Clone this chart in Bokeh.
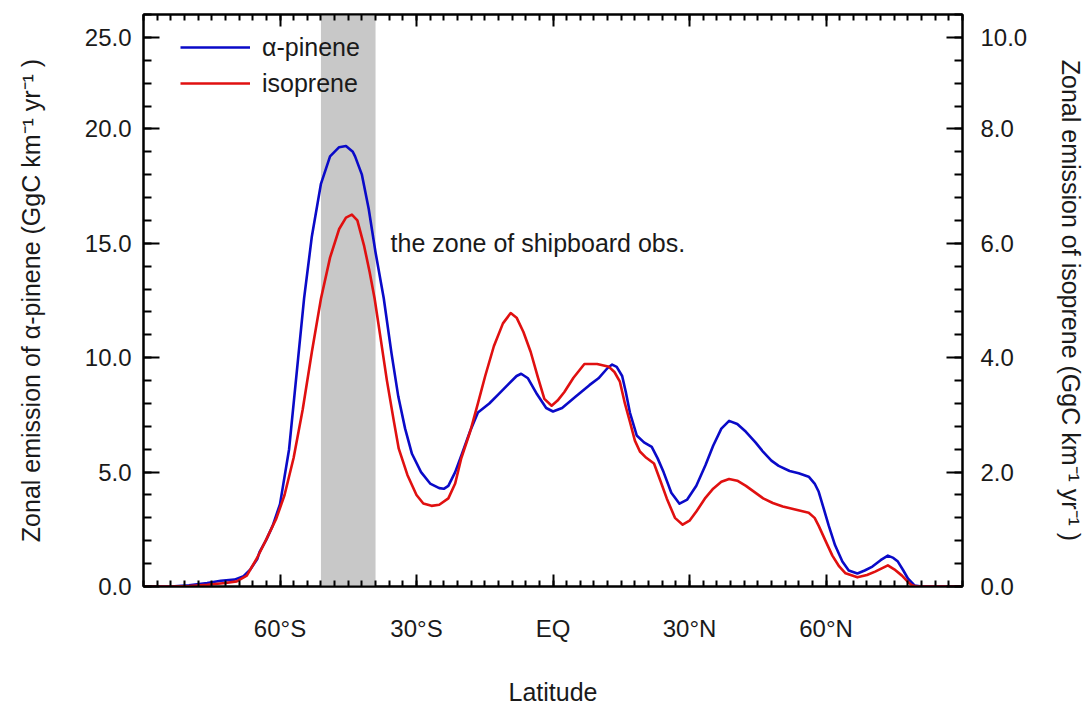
from bokeh.plotting import figure
from bokeh.models import (LinearAxis, Range1d, FixedTicker, BoxAnnotation, Label,
                          Legend, LegendItem)
from bokeh.embed import file_html
from bokeh.resources import INLINE

# ---------------- data ----------------
lat_apinene = [-90, -84, -80, -76, -73, -70, -68, -66.5, -65, -64.5, -63, -61.6, -60, -58, -56,
               -54.7, -53, -51, -49, -47, -45.5, -44, -43.5, -42, -40.5, -39, -37.2, -35.5, -34,
               -32.5, -31, -29, -27, -25, -24, -23, -21.5, -20, -18.2, -16.5, -14, -12, -10, -8,
               -7, -5.5, -3.5, -1.5, 0, 2, 5, 8, 10, 12, 13, 14, 15.2, 16, 16.9, 18.4, 20, 21.7,
               23, 24.3, 26, 27.8, 29.5, 31.5, 33.5, 35.2, 37, 38.7, 40.5, 42.4, 44.5, 46.2, 48,
               49.6, 52, 54, 56.2, 57.5, 58.4, 59.5, 60.6, 62, 63.6, 65, 66.9, 68.5, 70.2, 72,
               73.6, 74.8, 75.8, 77, 78, 79.5, 81, 90]
val_apinene = [0, 0, 0.05, 0.15, 0.25, 0.3, 0.45, 0.75, 1.2, 1.5, 2.05, 2.66, 3.6, 6.0, 10.0,
               12.6, 15.3, 17.6, 18.8, 19.2, 19.25, 19.0, 18.8, 18.0, 16.5, 14.6, 12.6, 10.2, 8.3,
               6.9, 5.8, 5.0, 4.5, 4.3, 4.27, 4.4, 5.0, 5.8, 6.8, 7.6, 8.0, 8.4, 8.8, 9.2,
               9.3, 9.1, 8.4, 7.8, 7.65, 7.8, 8.3, 8.8, 9.1, 9.55, 9.7, 9.6, 9.2, 8.5, 7.6, 6.6, 6.3, 6.1,
               5.6, 5.0, 4.1, 3.62, 3.8, 4.4, 5.3, 6.15, 6.9, 7.24, 7.1, 6.76, 6.3, 5.88, 5.5,
               5.27, 5.05, 4.95, 4.8, 4.5, 4.14, 3.4, 2.66, 1.8, 1.09, 0.7, 0.57, 0.7, 0.87, 1.15,
               1.35, 1.25, 1.09, 0.7, 0.35, 0.04, 0, 0]

lat_isoprene = [-90, -84, -80, -76, -72, -69.5, -67.3, -65.1, -62.9, -60.8, -59, -57, -55, -53,
                -51, -49, -47, -45.5, -44.2, -43, -41.5, -40.3, -39.2, -38, -36.5, -35, -33.9,
                -32, -30, -28.5, -26.7, -25, -23, -21.5, -20.2, -18.2, -16.5, -14.9, -13, -11,
                -9.3, -8, -6.5, -4.9, -3.3, -1.9, -0.3, 1, 2.5, 4.5, 6.9, 9.7, 12.3, 13.5, 14.7,
                15.8, 16.9, 18, 19.1, 20.5, 22.2, 23.6, 25, 26.8, 28.5, 30, 31.5, 33.5, 35.2, 37,
                38.7, 40.5, 42.4, 44.3, 46.2, 48.3, 50.5, 53, 56.2, 57.5, 58.4, 60, 61.4, 62.9,
                64.3, 66.9, 69, 70.8, 73.6, 75, 76.7, 78, 78.9, 80, 90]
val_isoprene = [0, 0, 0.01, 0.03, 0.06, 0.09, 0.19, 0.49, 0.84, 1.19, 1.6, 2.25, 3.1, 4.1,
                5.03, 5.75, 6.25, 6.45, 6.5, 6.4, 5.95, 5.5, 5.03, 4.4, 3.6, 2.9, 2.41,
                1.95, 1.6, 1.45, 1.41, 1.43, 1.54, 1.8, 2.23, 2.71, 3.2, 3.68, 4.2, 4.6,
                4.78, 4.7, 4.45, 4.10, 3.65, 3.28, 3.16, 3.25, 3.4, 3.65, 3.89, 3.89, 3.84, 3.75, 3.58,
                3.2, 2.88, 2.55, 2.36, 2.25, 2.15, 1.85, 1.54, 1.2, 1.08, 1.15, 1.31, 1.55, 1.71, 1.83,
                1.88, 1.85, 1.76, 1.65, 1.54, 1.46, 1.4, 1.35, 1.29, 1.2, 1.06, 0.78, 0.54, 0.35,
                0.23, 0.16, 0.2, 0.26, 0.37, 0.3, 0.19, 0.08, 0.02, 0, 0]

zone_south = -51
zone_north = -39
zone_text = "the zone of shipboard obs."
zone_text_lat = -35.7
zone_text_val = 15.0

x_ticks = [-60, -30, 0, 30, 60]
x_tick_labels = ["60°S", "30°S", "EQ", "30°N", "60°N"]
x_minor = list(range(-90, 91, 3))
left_ticks = [0, 5, 10, 15, 20, 24]
left_tick_labels = ["0.0", "5.0", "10.0", "15.0", "20.0", "25.0"]
left_minor = list(range(0, 26))
right_ticks = [0, 2, 4, 6, 8, 9.6]
right_tick_labels = ["0.0", "2.0", "4.0", "6.0", "8.0", "10.0"]
right_minor = [round(i * 0.4, 1) for i in range(26)]

FONT = "Liberation Sans"
TXT = "#1a1a1a"
BLUE = "#0a0ac8"
RED = "#e01010"

p = figure(width=1088, height=708, x_range=Range1d(-90, 90), y_range=Range1d(0, 25),
           output_backend="svg", toolbar_location=None,
           min_border_left=143, min_border_right=121, min_border_top=14, min_border_bottom=119)
p.extra_y_ranges = {"iso": Range1d(0, 10)}
p.xgrid.visible = False
p.ygrid.visible = False
p.outline_line_color = "black"
p.outline_line_width = 2

band = BoxAnnotation(left=zone_south, right=zone_north, fill_color="#c8c8c8", fill_alpha=1.0,
                     line_color=None, level="underlay")
p.add_layout(band)

r_a = p.line(lat_apinene, val_apinene, line_color=BLUE, line_width=2.6, line_join="round")
r_i = p.line(lat_isoprene, val_isoprene, line_color=RED, line_width=2.6, line_join="round",
             y_range_name="iso")


def style(ax, tick_in_major, tick_in_minor):
    ax.axis_line_width = 2
    ax.axis_line_color = "black"
    ax.major_tick_line_width = 2
    ax.minor_tick_line_width = 2
    ax.major_tick_line_color = "black"
    ax.minor_tick_line_color = "black"
    ax.major_tick_in = tick_in_major
    ax.major_tick_out = 0
    ax.minor_tick_in = tick_in_minor
    ax.minor_tick_out = 0
    ax.major_label_text_font = FONT
    ax.major_label_text_font_size = "24px"
    ax.major_label_text_color = TXT
    ax.axis_label_text_font = FONT
    ax.axis_label_text_font_size = "25px"
    ax.axis_label_text_font_style = "normal"
    ax.axis_label_text_color = TXT


# bottom axis
xb = p.xaxis[0]
xb.ticker = FixedTicker(ticks=x_ticks, minor_ticks=x_minor)
xb.major_label_overrides = dict(zip(x_ticks, x_tick_labels))
xb.axis_label = "Latitude"
style(xb, 12, 6)
xb.major_label_standoff = 28
xb.axis_label_standoff = 33

# top axis
xt = LinearAxis(ticker=FixedTicker(ticks=x_ticks, minor_ticks=x_minor))
style(xt, 12, 6)
xt.major_label_text_font_size = "0px"
xt.major_label_standoff = 0
xt.major_label_overrides = {t: "" for t in x_ticks}
p.add_layout(xt, "above")

# left axis
yl = p.yaxis[0]
yl.ticker = FixedTicker(ticks=left_ticks, minor_ticks=left_minor)
yl.major_label_overrides = dict(zip(left_ticks, left_tick_labels))
yl.axis_label = "Zonal emission of α-pinene (GgC km⁻¹ yr⁻¹ )"
style(yl, 16, 8)
yl.major_label_standoff = 12
yl.axis_label_standoff = 37

# right axis
yr = LinearAxis(y_range_name="iso", ticker=FixedTicker(ticks=right_ticks, minor_ticks=right_minor),
                axis_label="Zonal emission of isoprene (GgC km⁻¹ yr⁻¹ )")
yr.major_label_overrides = dict(zip(right_ticks, right_tick_labels))
style(yr, 16, 8)
yr.major_label_standoff = 18
yr.axis_label_standoff = 27
p.add_layout(yr, "right")

# zone annotation
p.add_layout(Label(x=zone_text_lat, y=zone_text_val, text=zone_text, text_align="left",
                   text_baseline="alphabetic", text_font=FONT, text_font_size="25px",
                   text_color=TXT))

legend = Legend(items=[LegendItem(label="α-pinene", renderers=[r_a]),
                       LegendItem(label="isoprene", renderers=[r_i])],
                location=(37, 575 - 87), padding=0, margin=0, spacing=6,
                glyph_width=70, glyph_height=30, label_height=30, label_standoff=12,
                label_text_font=FONT, label_text_font_size="25px", label_text_color=TXT,
                border_line_color=None, background_fill_alpha=0)
p.add_layout(legend)

open("out.html", "w").write(file_html(p, INLINE))
